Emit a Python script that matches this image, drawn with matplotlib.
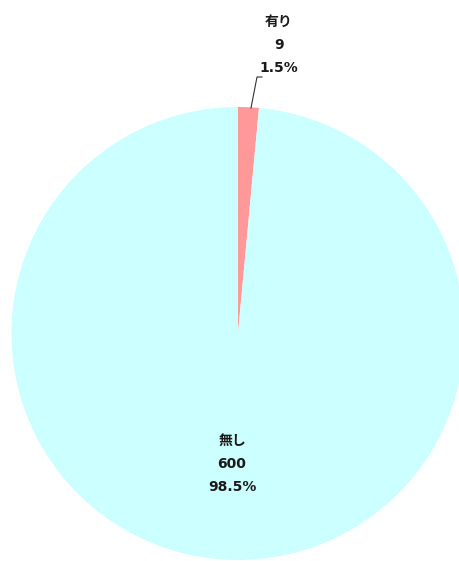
import matplotlib
matplotlib.use("Agg")
import matplotlib.pyplot as plt

plt.rcParams['font.family'] = ['DejaVu Sans', 'Noto Sans CJK JP']

labels = ["有り", "無し"]
counts = [9, 600]
colors = ["#FF9999", "#CCFFFF"]

total = sum(counts)
pcts = [c / total * 100 for c in counts]

fig = plt.figure(figsize=(4.6, 5.61), dpi=100)
ax = fig.add_axes([0, 0, 1, 1])

# pixel-like coordinate system, y measured upward
cx, cy, r = 238, 561 - 333.5, 226.5
ax.pie(counts, colors=colors, startangle=90, counterclock=False,
       center=(cx, cy), radius=r, frame=True,
       wedgeprops=dict(linewidth=0))
ax.set_xlim(0, 460)
ax.set_ylim(0, 561)
ax.set_aspect('equal')
ax.axis('off')

txt = dict(ha='center', va='center', fontsize=10, fontweight='bold',
           color='#1a1a1a', linespacing=1.85)

# small slice label with leader line
ax.text(279, 561 - 45, f"{labels[0]}\n{counts[0]}\n{pcts[0]:.1f}%", **txt)
ax.plot([251, 257, 262], [561 - 108, 561 - 77, 561 - 77], color='#333333', lw=0.8)

# big slice label
ax.text(232, 561 - 464, f"{labels[1]}\n{counts[1]}\n{pcts[1]:.1f}%", **txt)

fig.savefig("out.png", dpi=100)
